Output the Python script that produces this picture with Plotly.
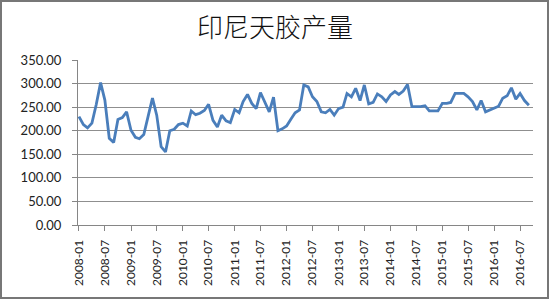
import pandas as pd
import plotly.graph_objects as go

title_text = "印尼天胶产量"

# monthly output, 2008-01 .. 2016-09
values = [
    230, 213, 206, 216, 255, 302, 265, 184, 175, 224, 228, 240,   # 2008
    201, 186, 183, 192, 230, 269, 233, 166, 155, 200, 203, 213,   # 2009
    216, 210, 242, 234, 237, 243, 256, 222, 208, 233, 221, 217,   # 2010
    245, 238, 262, 277, 258, 247, 281, 262, 240, 271, 200, 204,   # 2011
    210, 225, 238, 244, 297, 293, 272, 262, 240, 238, 245, 233,   # 2012
    247, 250, 279, 272, 290, 264, 297, 257, 260, 278, 272, 262,   # 2013
    276, 283, 277, 284, 298, 251, 251, 251, 253, 242, 242, 242,   # 2014
    258, 258, 260, 279, 279, 279, 272, 262, 244, 264, 240, 244,   # 2015
    249, 252, 269, 274, 291, 267, 279, 264, 254,                  # 2016
]
months = pd.date_range("2008-01-01", periods=len(values), freq="MS")

tick_labels = ["2008-01", "2008-07", "2009-01", "2009-07", "2010-01", "2010-07",
               "2011-01", "2011-07", "2012-01", "2012-07", "2013-01", "2013-07",
               "2014-01", "2014-07", "2015-01", "2015-07", "2016-01", "2016-07"]
tick_vals = [lbl + "-01" for lbl in tick_labels]

y_ticks = [0, 50, 100, 150, 200, 250, 300, 350]

fig = go.Figure()
fig.add_trace(go.Scatter(
    x=months, y=values, mode="lines",
    line=dict(color="#4a7ebb", width=2.8),
    hoverinfo="x+y", showlegend=False,
))

L, R, T, B = 78, 17, 60, 75
W, H = 550, 300
pw, ph = W - L - R, H - T - B

fig.update_layout(
    width=W, height=H,
    margin=dict(l=L, r=R, t=T, b=B),
    paper_bgcolor="white", plot_bgcolor="white",
    title=dict(text=title_text, x=0.5, xref="container", xanchor="center",
               y=1 - 28 / H, yref="container", yanchor="middle",
               font=dict(family="Noto Sans CJK SC", size=26, color="#111", weight=300)),
    font=dict(family="Lato", color="#222"),
    shapes=[dict(type="rect", xref="paper", yref="paper",
                 x0=(1 - L) / pw, x1=(548 - L) / pw,
                 y0=(H - B - 298) / ph, y1=(H - B - 1) / ph,
                 line=dict(color="#777", width=2), layer="below")],
)
fig.update_xaxes(
    type="date", range=["2007-12-25", "2016-09-30"],
    tickmode="array", tickvals=tick_vals, ticktext=tick_labels,
    tickangle=-90, tickfont=dict(family="Lato", size=12, color="#222"),
    ticks="outside", ticklen=5, tickcolor="#868686",
    showline=True, linecolor="#868686", linewidth=1,
    showgrid=False, zeroline=False, ticklabelstandoff=4,
)
fig.update_yaxes(
    range=[0, 350], tickmode="array", tickvals=y_ticks, tickformat=".2f",
    tickfont=dict(family="Lato", size=13, color="#222"),
    ticks="outside", ticklen=5, tickcolor="#868686",
    showline=True, linecolor="#868686", linewidth=1,
    showgrid=True, gridcolor="#8f8f8f", gridwidth=1,
    zeroline=False, ticklabelstandoff=8,
)

fig.write_html("out.html")
